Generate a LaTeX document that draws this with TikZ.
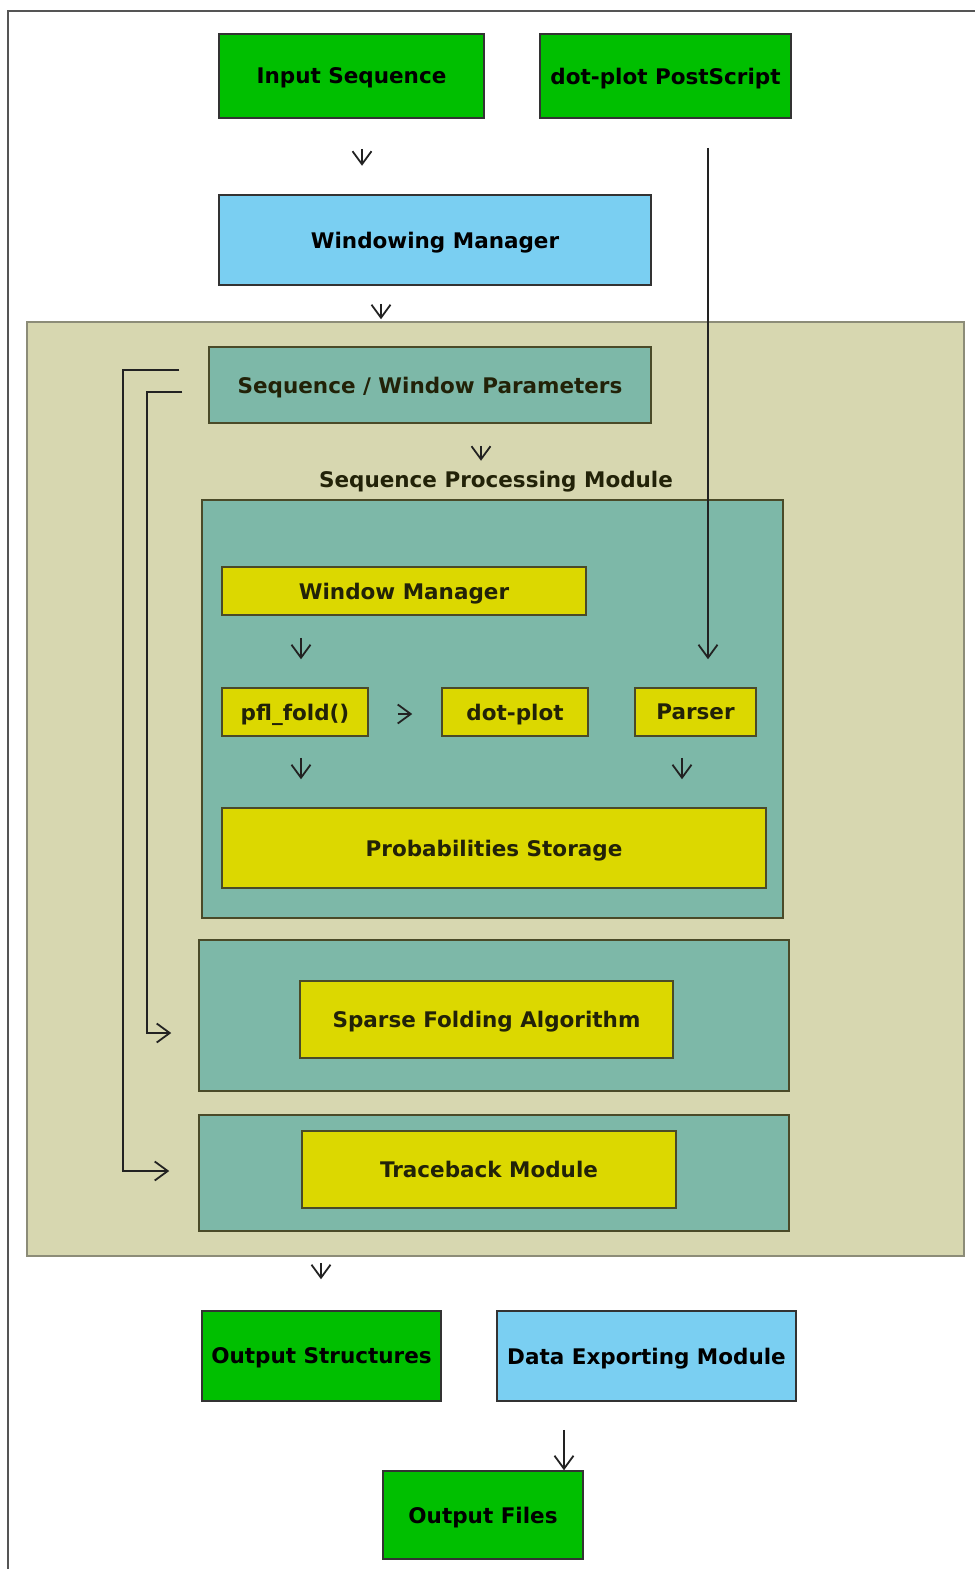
\documentclass[tikz,border=0pt]{standalone}
\usepackage{fontspec}
\setmainfont{DejaVu Sans}
\usetikzlibrary{arrows.meta}

\tikzset{every picture/.style={line width=0.75pt}}

\begin{document}
\begin{tikzpicture}[x=1pt,y=-1pt,
  box/.style={draw={rgb, 255:red, 51; green, 51; blue, 51 }, line width=1.5pt, inner sep=0pt, text depth=0pt, font=\fontsize{21.5}{24}\selectfont\bfseries},
  greenbox/.style={box, fill={rgb, 255:red, 0; green, 191; blue, 0 }},
  bluebox/.style={box, fill={rgb, 255:red, 122; green, 207; blue, 242 }},
  tanbox/.style={draw={rgb, 255:red, 140; green, 140; blue, 120 }, line width=1.5pt, fill={rgb, 255:red, 215; green, 215; blue, 176 }},
  tealbox/.style={box, draw={rgb, 255:red, 74; green, 74; blue, 40 }, fill={rgb, 255:red, 125; green, 184; blue, 168 }, text={rgb, 255:red, 34; green, 34; blue, 8 }},
  yellowbox/.style={tealbox, fill={rgb, 255:red, 220; green, 216; blue, 0 }},
  arr/.style={draw={rgb, 255:red, 34; green, 34; blue, 34 }, line width=1.6pt, -{Straight Barb[length=13pt,width=19pt,line width=1.8pt]}}
]
\useasboundingbox (0,0) rectangle (975,1569);

%Frame
\draw [color={rgb, 255:red, 85; green, 85; blue, 85 }, line width=1.5pt] (8,1569) -- (8,11) -- (975,11) ;

%Shape: Rectangle [top row]
\node [greenbox, minimum width=265pt, minimum height=84pt] (insq) at (351.5,76) {Input Sequence};
\node [greenbox, minimum width=251pt, minimum height=84pt] (dpps) at (665.5,76) {dot-plot PostScript};
\node [bluebox, minimum width=432pt, minimum height=90pt] (winmgr) at (435,240) {Windowing Manager};

%Shape: Rectangle [main module]
\node [tanbox, minimum width=937pt, minimum height=934pt] (sprmod) at (495.5,789) {};
\node [tealbox, minimum width=442pt, minimum height=76pt] (params) at (430,385) {Sequence / Window Parameters};
% Text Node
\node [font=\fontsize{21.5}{24}\selectfont\bfseries, text={rgb, 255:red, 34; green, 34; blue, 8 }] (spmlbl) at (496,482) {Sequence Processing Module};
\node [tealbox, minimum width=581pt, minimum height=418pt] (spm) at (492.5,709) {};
\node [yellowbox, minimum width=364pt, minimum height=48pt] (wm) at (404,591) {Window Manager};
\node [yellowbox, minimum width=146pt, minimum height=48pt] (pfl) at (295,712) {pfl\_fold()};
\node [yellowbox, minimum width=146pt, minimum height=48pt] (dotplot) at (515,712) {dot-plot};
\node [yellowbox, minimum width=121pt, minimum height=48pt] (parser) at (695.5,712) {Parser};
\node [yellowbox, minimum width=544pt, minimum height=80pt] (probs) at (494,848) {Probabilities Storage};
\node [tealbox, minimum width=590pt, minimum height=151pt] (sfabox) at (494,1015.5) {};
\node [yellowbox, minimum width=373pt, minimum height=77pt] (sfa) at (486.5,1019.5) {Sparse Folding Algorithm};
\node [tealbox, minimum width=590pt, minimum height=116pt] (tbbox) at (494,1173) {};
\node [yellowbox, minimum width=374pt, minimum height=77pt] (tb) at (489,1169.5) {Traceback Module};

%Shape: Rectangle [bottom row]
\node [greenbox, minimum width=239pt, minimum height=90pt] (outst) at (321.5,1356) {Output Structures};
\node [bluebox, minimum width=299pt, minimum height=90pt] (dexp) at (646.5,1356) {Data Exporting Module};
\node [greenbox, minimum width=200pt, minimum height=88pt] (outf) at (483,1515) {Output Files};

%Straight Lines
\draw [arr] ([shift={(10.5,30)}]insq.south) -- ++(0,17) ;
\draw [arr] ([shift={(-54,18)}]winmgr.south) -- ([shift={(-54,-2)}]winmgr.south |- sprmod.north) ;
\draw [arr] ([shift={(51,22)}]params.south) -- ++(0,15) ;
\draw [arr] ([shift={(42.5,29)}]dpps.south) -- ([shift={(12.5,-28)}]parser.north) ;
\draw [arr] ([shift={(-103,22)}]wm.south) -- ([shift={(6,-28)}]pfl.north) ;
\draw [arr] ([shift={(29,2)}]pfl.east) -- ([shift={(-29,2)}]dotplot.west) ;
\draw [arr] ([shift={(6,21)}]pfl.south) -- ([shift={(-193,-28)}]probs.north) ;
\draw [arr] ([shift={(-13.5,21)}]parser.south) -- ([shift={(188,-28)}]probs.north) ;
\draw [arr] ([shift={(-26,7)}]params.west) -- ++(-35,0) |- ([shift={(-27,17.5)}]sfabox.west) ;
\draw [arr] ([shift={(-29,-15)}]params.west) -- ++(-56,0) |- ([shift={(-29,-2)}]tbbox.west) ;
\draw [arr] ([shift={(-174.5,6)}]sprmod.south) -- ([shift={(-0.5,-31)}]outst.north) ;
\draw [arr] ([shift={(-82.5,28)}]dexp.south) -- ([shift={(81,0)}]outf.north) ;

\end{tikzpicture}
\end{document}
